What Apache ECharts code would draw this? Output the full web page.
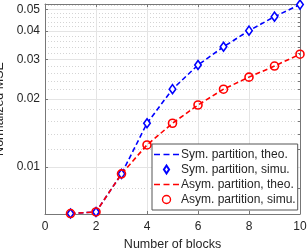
<!DOCTYPE html>
<html>
<head>
<meta charset="utf-8">
<script src="https://cdn.jsdelivr.net/npm/echarts@6/dist/echarts.min.js"></script>
<style>
html,body{margin:0;padding:0;background:#fff;}
#c{width:308px;height:251px;}
</style>
</head>
<body>
<div id="c"></div>
<script>
var blocks = [1, 2, 3, 4, 5, 6, 7, 8, 9, 10];
var symTheo = [0.0062, 0.0063, 0.0093, 0.0156, 0.0221, 0.0283, 0.0341, 0.0402, 0.0464, 0.0525];
var symSimu = [0.0062, 0.0063, 0.0093, 0.0156, 0.0221, 0.0283, 0.0341, 0.0402, 0.0464, 0.0525];
var asymTheo = [0.0062, 0.0063, 0.0093, 0.0125, 0.0156, 0.0188, 0.0221, 0.0250, 0.0280, 0.0316];
var asymSimu = [0.0062, 0.0063, 0.0093, 0.0125, 0.0156, 0.0188, 0.0221, 0.0250, 0.0280, 0.0316];
var yMajorTicks = [0.01, 0.02, 0.03, 0.04, 0.05];
var yMinorTicks = [0.008, 0.012, 0.014, 0.016, 0.018, 0.022, 0.024, 0.026, 0.028, 0.032, 0.034, 0.036, 0.038, 0.042, 0.044, 0.046, 0.048, 0.052];
var xTicks = [0, 2, 4, 6, 8, 10];
var yMin = 0.00617, yMax = 0.0528;
var names = ['Sym. partition, theo.', 'Sym. partition, simu.', 'Asym. partition, theo.', 'Asym. partition, simu.'];

function lg(v) { return Math.log10(v); }
function pts(arr) { return arr.map(function (v, i) { return [blocks[i], lg(v)]; }); }

var font = 'Liberation Sans, Arial, Helvetica, sans-serif';
var axisCol = '#777777';
var txtCol = '#262626';
var dashIcon = 'path://M0,0h6v1.6h-6z M9.5,0h6v1.6h-6z M19,0h6v1.6h-6z';

var chart = echarts.init(document.getElementById('c'), null, {renderer: 'canvas'});
chart.setOption({
  animation: false,
  backgroundColor: '#ffffff',
  textStyle: {fontFamily: font},
  grid: {left: 45, right: 8, top: 4, bottom: 37, containLabel: false, outerBoundsMode: 'none'},
  legend: {
    orient: 'vertical',
    left: 152, top: 144,
    backgroundColor: '#ffffff',
    borderColor: '#555555', borderWidth: 1, borderRadius: 0,
    padding: [3.5, 2, 3.5, 2],
    itemWidth: 25, itemHeight: 8, itemGap: 1,
    textStyle: {fontSize: 12, lineHeight: 14, color: txtCol, fontFamily: font, padding: [0, 0, 0, -3]},
    data: [
      {name: names[0], icon: dashIcon},
      {name: names[1], icon: 'path://M0,-4L2.6,0L0,4L-2.6,0Z'},
      {name: names[2], icon: dashIcon},
      {name: names[3], icon: 'circle', itemStyle: {borderWidth: 1.4}}
    ]
  },
  xAxis: [{
    type: 'value', min: 0, max: 10, interval: 2, position: 'bottom',
    axisLine: {show: true, onZero: false, lineStyle: {color: axisCol, width: 1}},
    axisTick: {show: true, inside: true, length: 3, lineStyle: {color: axisCol}},
    axisLabel: {fontSize: 12, color: txtCol, margin: 7, fontFamily: font},
    splitLine: {show: true, lineStyle: {color: '#e4e4e4', width: 1}},
    name: 'Number of blocks', nameLocation: 'middle', nameGap: 23,
    nameTextStyle: {fontSize: 12.5, color: txtCol, fontFamily: font}
  }, {
    type: 'value', min: 0, max: 10, interval: 2, position: 'top',
    axisLine: {show: true, onZero: false, lineStyle: {color: axisCol, width: 1}},
    axisTick: {show: true, inside: true, length: 3, lineStyle: {color: axisCol}},
    axisLabel: {show: false}, splitLine: {show: false}
  }],
  yAxis: [{
    type: 'value', min: lg(yMin), max: lg(yMax), position: 'left',
    axisLine: {show: true, onZero: false, lineStyle: {color: axisCol, width: 1}},
    axisTick: {show: true, inside: true, length: 3, lineStyle: {color: axisCol}, customValues: yMajorTicks.map(lg)},
    axisLabel: {fontSize: 12, color: txtCol, margin: 5, fontFamily: font, customValues: yMajorTicks.map(lg),
      formatter: function (v) { return Math.pow(10, v).toFixed(2); }},
    splitLine: {show: true, lineStyle: {color: '#e4e4e4', width: 1}},
    name: 'Normalized MSE', nameLocation: 'middle', nameGap: 32, nameRotate: 90,
    nameTextStyle: {fontSize: 12.5, color: txtCol, fontFamily: font}
  }, {
    type: 'value', min: lg(yMin), max: lg(yMax), position: 'right',
    axisLine: {show: true, onZero: false, lineStyle: {color: axisCol, width: 1}},
    axisTick: {show: true, inside: true, length: 2, lineStyle: {color: axisCol}, customValues: yMinorTicks.map(lg)},
    axisLabel: {show: false, customValues: yMinorTicks.map(lg)},
    splitLine: {show: true, lineStyle: {color: '#d4d4d4', width: 1, type: [1, 2]}}
  }],
  series: [
    {name: names[0], type: 'line', data: pts(symTheo), symbol: 'none', z: 2,
      lineStyle: {color: '#0000ff', width: 1.6, type: [5, 3]}, itemStyle: {color: '#0000ff'}},
    {name: names[1], type: 'scatter', data: pts(symSimu), symbol: 'diamond', symbolSize: [6.5, 9], z: 3,
      itemStyle: {color: '#ffffff', borderColor: '#0000ff', borderWidth: 1.6, opacity: 1}},
    {name: names[2], type: 'line', data: pts(asymTheo), symbol: 'none', z: 2,
      lineStyle: {color: '#ff0000', width: 1.6, type: [5, 3]}, itemStyle: {color: '#ff0000'}},
    {name: names[3], type: 'scatter', data: pts(asymSimu), symbol: 'circle', symbolSize: 8, z: 3,
      itemStyle: {color: 'rgba(255,255,255,0)', borderColor: '#ff0000', borderWidth: 1.6, opacity: 1}}
  ]
});
</script>
</body>
</html>
